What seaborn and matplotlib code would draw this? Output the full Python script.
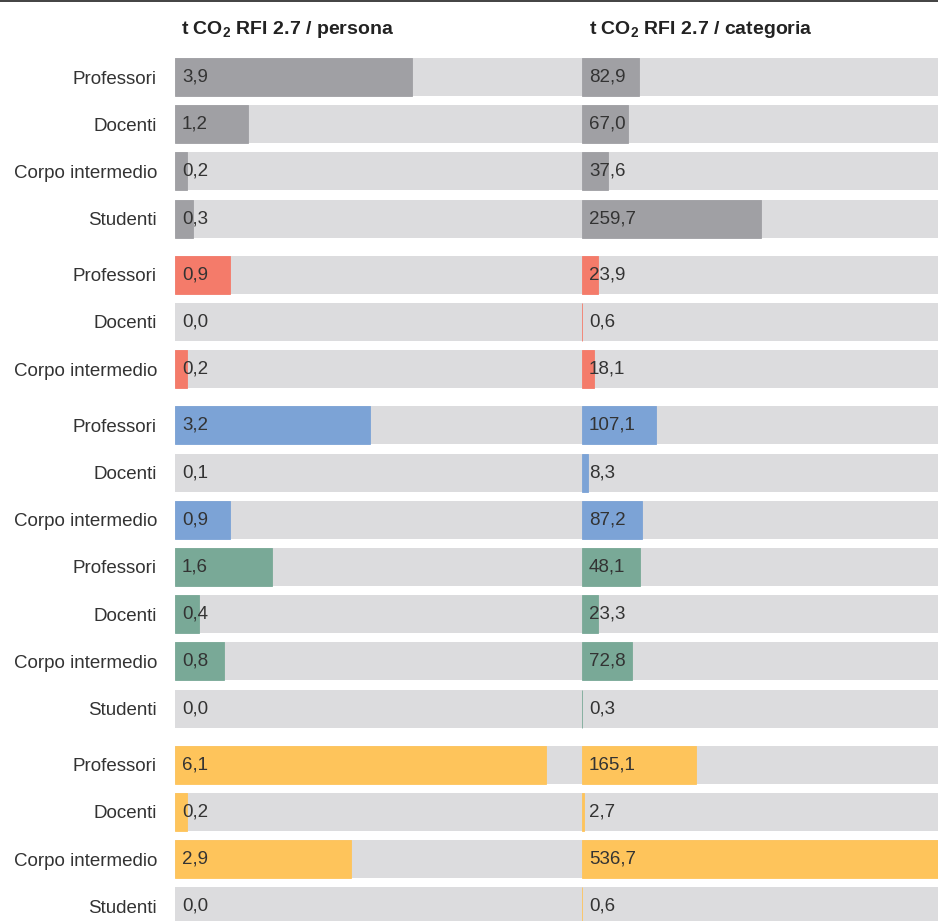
import numpy as np
import pandas as pd
import matplotlib
matplotlib.use("Agg")
import matplotlib.pyplot as plt
from matplotlib.lines import Line2D
import seaborn as sns

# ---------------- data ----------------
categories = ["Professori", "Docenti", "Corpo intermedio", "Studenti",
              "Professori", "Docenti", "Corpo intermedio",
              "Professori", "Docenti", "Corpo intermedio",
              "Professori", "Docenti", "Corpo intermedio", "Studenti",
              "Professori", "Docenti", "Corpo intermedio", "Studenti"]
groups = ["g1"] * 4 + ["g2"] * 3 + ["g3"] * 3 + ["g4"] * 4 + ["g5"] * 4

# bar lengths as drawn
persona_values = [3.9, 1.2, 0.2, 0.3,
                  0.9, 0.0, 0.2,
                  3.2, 0.0, 0.9,
                  1.6, 0.4, 0.8, 0.0,
                  6.1, 0.2, 2.9, 0.0]
categoria_values = [82.9, 67.0, 37.6, 259.7,
                    23.9, 0.6, 18.1,
                    107.1, 8.3, 87.2,
                    84.0, 23.3, 72.8, 0.3,
                    165.1, 2.7, 536.7, 0.6]
# printed value labels
persona_labels = ["3,9", "1,2", "0,2", "0,3",
                  "0,9", "0,0", "0,2",
                  "3,2", "0,1", "0,9",
                  "1,6", "0,4", "0,8", "0,0",
                  "6,1", "0,2", "2,9", "0,0"]
categoria_labels = ["82,9", "67,0", "37,6", "259,7",
                    "23,9", "0,6", "18,1",
                    "107,1", "8,3", "87,2",
                    "48,1", "23,3", "72,8", "0,3",
                    "165,1", "2,7", "536,7", "0,6"]
headers = ["persona", "categoria"]
group_colors = {"g1": "#a0a0a4", "g2": "#f47b6a", "g3": "#7ca3d6",
                "g4": "#79a997", "g5": "#fec45b"}

# ---------------- layout helpers ----------------
breaks_after = {3, 6, 13}
gap = 0.19
pos = []
off = 0.0
for i in range(len(categories)):
    pos.append(i + off)
    if i in breaks_after:
        off += gap

df = pd.DataFrame({"pos": pos, "cat": categories, "group": groups,
                   "persona": persona_values, "categoria": categoria_values})
df["bg"] = 10000.0

sns.set_theme(style="white")
plt.rcParams["font.family"] = ["Liberation Sans", "DejaVu Sans"]
plt.rcParams["mathtext.fontset"] = "custom"
plt.rcParams["mathtext.rm"] = "Liberation Sans"
plt.rcParams["mathtext.bf"] = "Liberation Sans:bold"

W, H = 938, 921
fig = plt.figure(figsize=(W / 100, H / 100), dpi=100)
fig.patch.set_facecolor("white")

row_px = 47.2
first_center = 77
ax_top_px = first_center - 0.5 * row_px
ax_h = 1 - ax_top_px / H
y_bottom = -0.5 + (H - ax_top_px) / row_px

ax1 = fig.add_axes([175 / W, 0, 407 / W, ax_h])
ax2 = fig.add_axes([582 / W, 0, 356 / W, ax_h])

txt_color = "#333333"
bar_h = 0.805

for ax, col, xmax, labels in [(ax1, "persona", 407 / 60.8, persona_labels),
                              (ax2, "categoria", 356 / 0.689, categoria_labels)]:
    sns.barplot(data=df, x="bg", y="pos", orient="h", native_scale=True,
                color="#dcdcde", width=bar_h, saturation=1, ax=ax,
                errorbar=None, linewidth=0)
    n_bg = len(ax.patches)
    sns.barplot(data=df, x=col, y="pos", hue="group", palette=group_colors,
                orient="h", native_scale=True, width=bar_h, saturation=1,
                ax=ax, errorbar=None, legend=False, linewidth=0, dodge=False)
    # give very thin (non-zero) bars a hairline so they stay visible
    for patch in ax.patches[n_bg:]:
        if patch.get_width() > 0:
            patch.set_edgecolor(patch.get_facecolor())
            patch.set_linewidth(0.6)
    ax.set_xlim(0, xmax)
    ax.set_ylim(y_bottom, -0.5)
    for p, lab in zip(pos, labels):
        ax.annotate(lab, xy=(0, p), xycoords="data", xytext=(5, 0),
                    textcoords="offset points", va="center", ha="left",
                    fontsize=13.5, color=txt_color)
    ax.set_xlabel("")
    ax.set_ylabel("")
    ax.set_xticks([])
    for s in ax.spines.values():
        s.set_visible(False)
    ax.set_facecolor("none")

ax1.set_yticks(pos)
ax1.set_yticklabels(categories, fontsize=13.5, color=txt_color)
ax1.tick_params(axis="y", length=0, pad=13)
ax2.set_yticks([])

# headers
fig.text(181 / W, 1 - 29 / H, r"t CO$_\mathbf{2}$ RFI 2.7 / " + headers[0],
         fontsize=14, fontweight="bold", color="#222222", va="center", ha="left")
fig.text(589 / W, 1 - 29 / H, r"t CO$_\mathbf{2}$ RFI 2.7 / " + headers[1],
         fontsize=14, fontweight="bold", color="#222222", va="center", ha="left")

# top rule
fig.add_artist(Line2D([0, 1], [1 - 1.5 / H, 1 - 1.5 / H], transform=fig.transFigure,
                      color="#333333", linewidth=1.3))

fig.savefig("out.png", dpi=100)
